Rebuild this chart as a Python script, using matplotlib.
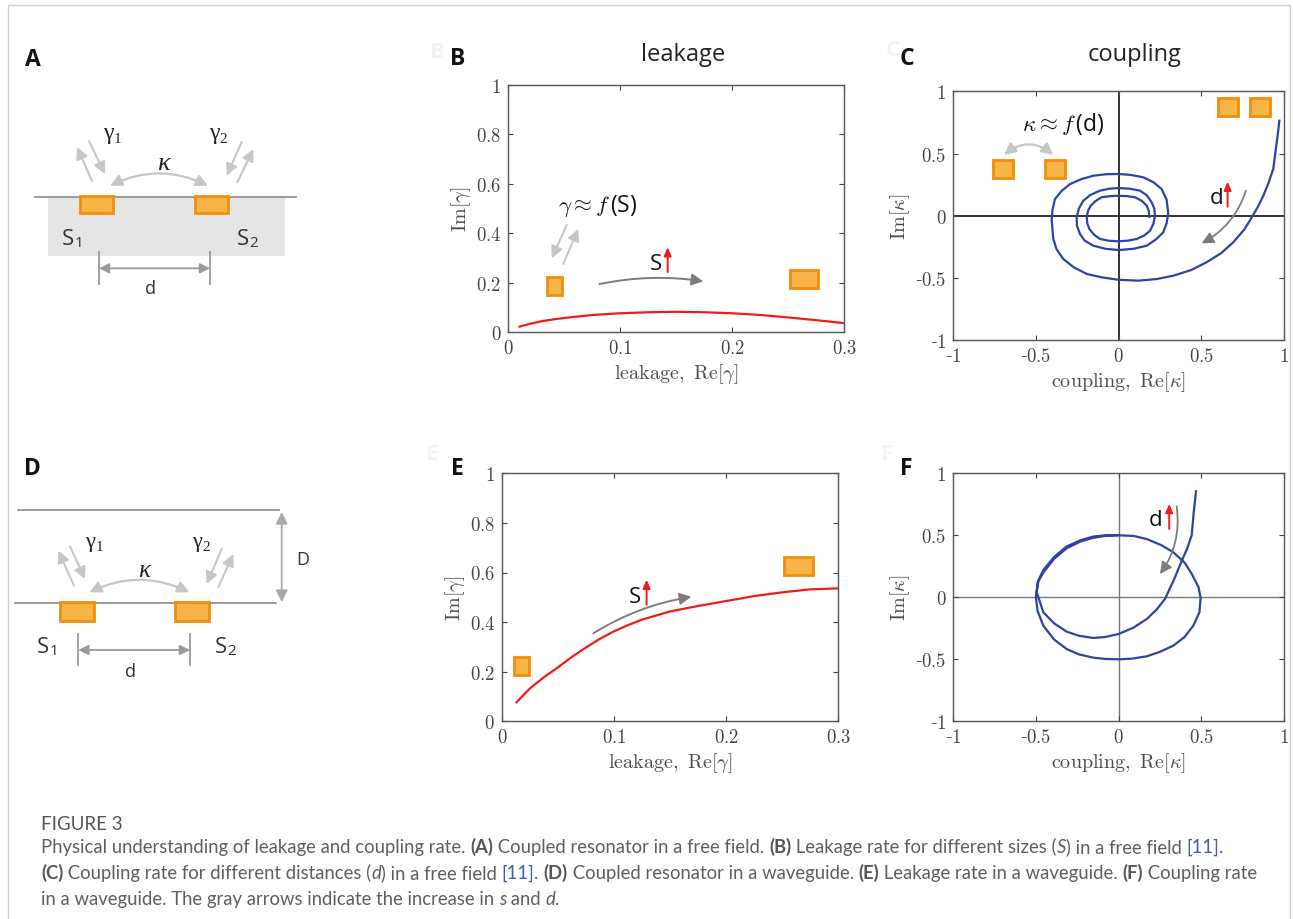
import matplotlib
matplotlib.use('Agg')
import matplotlib.pyplot as plt
from matplotlib.patches import Rectangle, FancyArrowPatch, ArrowStyle
from matplotlib.ticker import FuncFormatter

plt.rcParams['mathtext.fontset'] = 'cm'

# ---------------- data ----------------
# Panel B: leakage in free field
b_re = [0.01, 0.02, 0.03, 0.04, 0.05, 0.075, 0.1, 0.125, 0.15, 0.175, 0.2, 0.225, 0.25, 0.275, 0.3]
b_im = [0.023, 0.035, 0.045, 0.052, 0.058, 0.070, 0.077, 0.081, 0.083, 0.081, 0.077, 0.070, 0.060, 0.049, 0.037]

# Panel E: leakage in waveguide
e_re = [0.013, 0.019, 0.025, 0.0375, 0.05, 0.0625, 0.075, 0.0875, 0.1, 0.1125, 0.125, 0.15, 0.175,
        0.2, 0.225, 0.25, 0.275, 0.3]
e_im = [0.077, 0.105, 0.133, 0.178, 0.218, 0.260, 0.298, 0.333, 0.363, 0.388, 0.410, 0.443, 0.465,
        0.485, 0.505, 0.520, 0.532, 0.536]

# Panel C: coupling in free field (spiral)
c_re = [0.972, 0.962, 0.95, 0.935, 0.905, 0.875, 0.845, 0.811, 0.76, 0.693, 0.62, 0.532, 0.44, 0.331,
        0.23, 0.119, 0.0, -0.10, -0.193, -0.27, -0.335, -0.375, -0.395, -0.405, -0.40, -0.385,
        -0.345, -0.294, -0.225, -0.153, -0.075, 0.0, 0.075, 0.149, 0.21, 0.260, 0.29, 0.30, 0.29,
        0.270, 0.225, 0.17, 0.09, 0.0, -0.08, -0.153, -0.205, -0.234, -0.252, -0.254, -0.24,
        -0.214, -0.17, -0.113, -0.055, 0.0, 0.065, 0.129, 0.17, 0.2, 0.215, 0.22, 0.21, 0.19,
        0.155, 0.109, 0.055, 0.0, -0.06, -0.113, -0.15, -0.177, -0.19, -0.193, -0.185, -0.169,
        -0.14, -0.103, -0.05, 0.0, 0.05, 0.099, 0.14, 0.17, 0.182, 0.186]
c_im = [0.764, 0.65, 0.53, 0.376, 0.26, 0.161, 0.08, 0.0, -0.11, -0.213, -0.30, -0.373, -0.435, -0.481,
        -0.508, -0.521, -0.514, -0.495, -0.467, -0.415, -0.347, -0.27, -0.187, -0.035, 0.05, 0.135,
        0.20, 0.255, 0.295, 0.322, 0.334, 0.336, 0.328, 0.309, 0.27, 0.215, 0.13, 0.02, -0.06,
        -0.133, -0.19, -0.24, -0.265, -0.275, -0.265, -0.24, -0.20, -0.146, -0.08, -0.01, 0.06,
        0.121, 0.168, 0.202, 0.218, 0.223, 0.218, 0.202, 0.165, 0.108, 0.06, 0.0, -0.065, -0.12,
        -0.158, -0.186, -0.200, -0.205, -0.200, -0.186, -0.15, -0.106, -0.06, -0.008, 0.04, 0.081,
        0.118, 0.149, 0.158, 0.161, 0.158, 0.149, 0.12, 0.081, 0.04, -0.008]

# Panel F: coupling in waveguide
f_re = [0.469, 0.455, 0.443, 0.415, 0.383, 0.335, 0.281, 0.23, 0.171, 0.09, 0.0, -0.08, -0.152,
        -0.24, -0.314, -0.39, -0.455, -0.495, -0.485, -0.455, -0.39, -0.314, -0.23, -0.152, -0.08,
        0.0, 0.09, 0.171, 0.26, 0.332, 0.40, 0.443, 0.485, 0.497, 0.49, 0.453, 0.40, 0.332, 0.25,
        0.171, 0.08, 0.0, -0.08, -0.152, -0.24, -0.314, -0.39, -0.455, -0.49, -0.5, -0.49, -0.455,
        -0.39, -0.314, -0.23, -0.152, -0.08, 0.0]
f_im = [0.855, 0.68, 0.50, 0.39, 0.295, 0.14, -0.014, -0.10, -0.175, -0.245, -0.296, -0.32, -0.328,
        -0.31, -0.277, -0.21, -0.121, 0.04, 0.13, 0.20, 0.31, 0.395, 0.45, 0.48, 0.495, 0.5, 0.495,
        0.47, 0.42, 0.363, 0.28, 0.19, 0.08, -0.006, -0.12, -0.229, -0.32, -0.39, -0.44, -0.476,
        -0.495, -0.5, -0.497, -0.487, -0.46, -0.417, -0.34, -0.229, -0.11, 0.0, 0.12, 0.22, 0.325,
        0.41, 0.46, 0.49, 0.5, 0.502]

lk_xticks = [0, 0.1, 0.2, 0.3]
lk_yticks = [0, 0.2, 0.4, 0.6, 0.8, 1]
cp_ticks = [-1, -0.5, 0, 0.5, 1]

W, H = 1293, 920
fig = plt.figure(figsize=(W / 100, H / 100), dpi=100)
fig.patch.set_facecolor('white')

ov = fig.add_axes([0, 0, 1, 1], zorder=0)
ov.set_xlim(0, W)
ov.set_ylim(H, 0)
ov.axis('off')

ORF = '#f7b548'
ORE = '#f28e0c'
LG = '#c6c6c6'
DG = '#7d7d7d'
RED = '#f01c1c'
BLUE = '#2f43a0'
SANS = 'Open Sans'
SERIF = 'Liberation Serif'


def arrow(ax, p0, p1, color, lw=1.4, rad=0.0, both=False, hl=6, hw=3, z=5):
    st = ArrowStyle('<|-|>' if both else '-|>', head_length=hl, head_width=hw)
    a = FancyArrowPatch(p0, p1, arrowstyle=st, connectionstyle=f'arc3,rad={rad}',
                        color=color, lw=lw, shrinkA=0, shrinkB=0, mutation_scale=1,
                        transform=ax.transData, zorder=z)
    ax.add_patch(a)


# -------- figure frame --------
ov.plot([7.5, 7.5, 1290, 1290], [925, 6, 6, 925], color='#d0d0d0', lw=1.0)

# -------- panel letters & titles --------
for (x, y, s) in [(437, 52, 'B'), (893, 50, 'C'), (432, 455, 'E'), (887, 455, 'F')]:
    ov.text(x, y, s, fontsize=16, weight='bold', family=SANS, color='#f3f3f3', ha='center', va='center')
for (x, y, s) in [(32.5, 60, 'A'), (458, 59, 'B'), (906.5, 59, 'C'),
                  (32.5, 469, 'D'), (457.5, 469, 'E'), (906, 469, 'F')]:
    ov.text(x, y, s, fontsize=16.5, weight='bold', family=SANS, color='#111111', ha='center', va='center')
ov.text(683, 61, 'leakage', fontsize=17, family=SANS, color='#222222', ha='center', va='baseline')
ov.text(1134.5, 61, 'coupling', fontsize=17, family=SANS, color='#222222', ha='center', va='baseline')


def sub_label(x, yb, main, sub, fam, size, subsize, dy, color='#333333', style='normal'):
    t = ov.text(x, yb, main, fontsize=size, family=fam, color=color, va='baseline', style=style)
    r = fig.canvas.get_renderer()
    w = t.get_window_extent(r).width
    ov.text(x + w + 0.5, yb + dy, sub, fontsize=subsize, family=fam, color=color, va='baseline')


# -------- panel A diagram --------
ov.add_patch(Rectangle((48.3, 198), 236.7, 58.7, fc='#e5e5e5', ec='none', zorder=1))
ov.plot([35, 296], [198.3, 198.3], color='#8a8a8a', lw=1.2, zorder=2)
for x0 in [80, 195]:
    ov.add_patch(Rectangle((x0, 196.7), 33.3, 17.6, fc=ORF, ec=ORE, lw=2, zorder=3))
sub_label(62, 245, 'S', '1', SANS, 16, 11, 2)
sub_label(237, 245, 'S', '2', SANS, 16, 11, 2)
for x0 in [99, 210]:
    ov.plot([x0, x0], [253, 285], color='#9a9a9a', lw=1.3)
arrow(ov, (99, 269.3), (210, 269.3), '#9a9a9a', lw=1.3, both=True, hl=6, hw=3)
ov.text(150, 294, 'd', fontsize=13, family=SANS, color='#333333', ha='center', va='baseline')
ov.text(163, 170, 'κ', fontsize=19, family=SERIF, style='italic', color='#222222', ha='center', va='baseline')
arrow(ov, (110, 186.7), (208, 186.7), LG, lw=1.6, rad=-0.24, both=True, hl=7, hw=3.5)
sub_label(103, 139, 'γ', '1', SERIF, 17, 11, 4, color='#222222')
sub_label(209, 139, 'γ', '2', SERIF, 17, 11, 4, color='#222222')
arrow(ov, (92, 182), (77, 148), LG, lw=1.5, hl=7, hw=3.5)
arrow(ov, (89, 142), (105, 175), LG, lw=1.5, hl=7, hw=3.5)
arrow(ov, (241.7, 143), (226.7, 176.7), LG, lw=1.5, hl=7, hw=3.5)
arrow(ov, (237.3, 183.3), (253.3, 150), LG, lw=1.5, hl=7, hw=3.5)

# -------- panel D diagram --------
ov.plot([18.3, 279.3], [511, 511], color='#8a8a8a', lw=1.2)
ov.plot([15, 276], [604, 604], color='#8a8a8a', lw=1.2)
arrow(ov, (281.7, 513), (281.7, 603), '#a8a8a8', lw=1.3, both=True, hl=7, hw=3.5)
ov.text(303, 565, 'D', fontsize=13, family=SANS, color='#333333', ha='center', va='baseline')
for x0 in [60, 175]:
    ov.add_patch(Rectangle((x0, 603.3), 34, 18.4, fc=ORF, ec=ORE, lw=2, zorder=3))
sub_label(36.7, 653, 'S', '1', SANS, 16, 11, 2)
sub_label(215, 653, 'S', '2', SANS, 16, 11, 2)
for x0 in [78.3, 190]:
    ov.plot([x0, x0], [635, 666], color='#9a9a9a', lw=1.3)
arrow(ov, (78.3, 651), (190, 651), '#9a9a9a', lw=1.3, both=True, hl=6, hw=3)
ov.text(130, 676.7, 'd', fontsize=13, family=SANS, color='#333333', ha='center', va='baseline')
ov.text(144, 577, 'κ', fontsize=18, family=SERIF, style='italic', color='#222222', ha='center', va='baseline')
arrow(ov, (89.3, 593.3), (189.3, 593.3), LG, lw=1.6, rad=-0.24, both=True, hl=7, hw=3.5)
sub_label(85, 547, 'γ', '1', SERIF, 16, 11, 4, color='#222222')
sub_label(191.7, 547, 'γ', '2', SERIF, 16, 11, 4, color='#222222')
arrow(ov, (74, 586.7), (58.3, 551.7), LG, lw=1.5, hl=7, hw=3.5)
arrow(ov, (70, 547.3), (85, 580), LG, lw=1.5, hl=7, hw=3.5)
arrow(ov, (221.7, 550), (206.7, 585), LG, lw=1.5, hl=7, hw=3.5)
arrow(ov, (218.3, 588.3), (233.3, 555), LG, lw=1.5, hl=7, hw=3.5)


# -------- plot axes --------
def px_axes(l, t, r, b):
    return fig.add_axes([l / W, 1 - b / H, (r - l) / W, (b - t) / H], zorder=2)


def fmt(v, pos):
    s = f'{v:g}'
    if s.startswith('-'):
        return '-$' + s[1:] + '$'
    return '$' + s + '$'


def style(ax, xt, yt, xl, yl, xlabel, ylabel):
    ax.set_xlim(xl)
    ax.set_ylim(yl)
    ax.set_xticks(xt)
    ax.set_yticks(yt)
    ax.xaxis.set_major_formatter(FuncFormatter(fmt))
    ax.yaxis.set_major_formatter(FuncFormatter(fmt))
    ax.tick_params(direction='in', top=True, right=True, length=3.5, width=0.8, color='#444444',
                   labelcolor='#444444', labelsize=13.5, pad=5, labelfontfamily='DejaVu Serif')
    for sp in ax.spines.values():
        sp.set_color('#555555')
        sp.set_linewidth(1.0)
    ax.set_xlabel(xlabel, fontsize=14.5, color='#4d4d4d', labelpad=3)
    ax.set_ylabel(ylabel, fontsize=14.5, color='#4d4d4d', labelpad=2)


def orange(ax, x0, x1, y0, y1):
    ax.add_patch(Rectangle((x0, y0), x1 - x0, y1 - y0, fc=ORF, ec=ORE, lw=2, zorder=6))


axB = px_axes(508.3, 86, 844.3, 333.3)
axC = px_axes(953.3, 92.3, 1284, 341.3)
axE = px_axes(502, 474.3, 838.3, 722.3)
axF = px_axes(953.3, 474.3, 1283.7, 722.3)

lk_xl = r'$\mathrm{leakage,\ Re}[\gamma]$'
lk_yl = r'$\mathrm{Im}[\gamma]$'
cp_xl = r'$\mathrm{coupling,\ Re}[\kappa]$'
cp_yl = r'$\mathrm{Im}[\kappa]$'

# B
style(axB, lk_xticks, lk_yticks, (0, 0.3), (0, 1), lk_xl, lk_yl)
axB.plot(b_re, b_im, color=RED, lw=1.6, solid_joinstyle='round')
orange(axB, 0.0343, 0.0482, 0.152, 0.222)
orange(axB, 0.2515, 0.2762, 0.180, 0.251)
axB.text(0.0446, 0.492, r'$\gamma\approx f\,$(S)', fontsize=16.5, family=SANS, color='#111111', va='baseline')
arrow(axB, (0.0522, 0.434), (0.0388, 0.299), LG, lw=1.5, hl=7, hw=3.5)
arrow(axB, (0.0491, 0.277), (0.0625, 0.418), LG, lw=1.5, hl=7, hw=3.5)
axB.text(0.1265, 0.256, 'S', fontsize=16, family=SANS, color='#111111', va='baseline')
arrow(axB, (0.1423, 0.243), (0.1423, 0.344), RED, lw=1.4, hl=5, hw=2.2)
arrow(axB, (0.0813, 0.195), (0.1741, 0.206), DG, lw=1.4, rad=-0.09, hl=7, hw=3.5)

# C
style(axC, cp_ticks, cp_ticks, (-1, 1), (-1, 1), cp_xl, cp_yl)
axC.axhline(0, color='#111111', lw=1.2, zorder=1)
axC.axvline(0, color='#111111', lw=1.2, zorder=1)
axC.plot(c_re, c_im, color=BLUE, lw=1.6, zorder=3, solid_joinstyle='round')
orange(axC, 0.603, 0.724, 0.799, 0.944)
orange(axC, 0.794, 0.915, 0.799, 0.944)
orange(axC, -0.762, -0.641, 0.301, 0.448)
orange(axC, -0.445, -0.324, 0.301, 0.448)
arrow(axC, (-0.693, 0.489), (-0.395, 0.489), LG, lw=1.6, rad=-0.4, both=True, hl=7, hw=3.5)
axC.text(-0.586, 0.689, r'$\kappa\approx f\,$(d)', fontsize=16.5, family=SANS, color='#111111', va='baseline')
axC.text(0.548, 0.103, 'd', fontsize=16, family=SANS, color='#111111', va='baseline')
arrow(axC, (0.659, 0.073), (0.659, 0.274), RED, lw=1.4, hl=5, hw=2.2)
arrow(axC, (0.770, 0.202), (0.502, -0.221), DG, lw=1.3, rad=-0.2, hl=7, hw=3.5)

# E
style(axE, lk_xticks, lk_yticks, (0, 0.3), (0, 1), lk_xl, lk_yl)
axE.plot(e_re, e_im, color=RED, lw=1.6, solid_joinstyle='round')
orange(axE, 0.0107, 0.0241, 0.188, 0.259)
orange(axE, 0.2518, 0.2772, 0.591, 0.661)
axE.text(0.1127, 0.48, 'S', fontsize=16, family=SANS, color='#111111', va='baseline')
arrow(axE, (0.129, 0.47), (0.129, 0.571), RED, lw=1.4, hl=5, hw=2.2)
arrow(axE, (0.0815, 0.355), (0.169, 0.502), DG, lw=1.4, rad=-0.1, hl=7, hw=3.5)

# F
style(axF, cp_ticks, cp_ticks, (-1, 1), (-1, 1), cp_xl, cp_yl)
axF.axhline(0, color='#7a7a7a', lw=1.0, zorder=1)
axF.axvline(0, color='#7a7a7a', lw=1.0, zorder=1)
axF.plot(f_re, f_im, color=BLUE, lw=1.6, zorder=3, solid_joinstyle='round')
axF.text(0.186, 0.583, 'd', fontsize=16, family=SANS, color='#111111', va='baseline')
arrow(axF, (0.307, 0.551), (0.307, 0.753), RED, lw=1.4, hl=5, hw=2.2)
arrow(axF, (0.352, 0.734), (0.251, 0.188), DG, lw=1.3, rad=-0.2, hl=7, hw=3.5)

# -------- caption --------
CAPF = 'Lato'
CG = '#5e5e5e'
n = dict(family=CAPF, color=CG)
b = dict(family=CAPF, color='#555555', weight='bold')
it = dict(family=CAPF, color=CG, style='italic')
bl = dict(family=CAPF, color='#4c58a8')

cap1 = [("Physical understanding of leakage and coupling rate. ", n), ("(A)", b),
        (" Coupled resonator in a free field. ", n), ("(B)", b),
        (" Leakage rate for different sizes (", n), ("S", it), (") in a free field ", n),
        ("[11]", bl), (".", n)]
cap2 = [("(C)", b), (" Coupling rate for different distances (", n), ("d", it),
        (") in a free field ", n), ("[11]", bl), (". ", n), ("(D)", b),
        (" Coupled resonator in a waveguide. ", n), ("(E)", b),
        (" Leakage rate in a waveguide. ", n), ("(F)", b), (" Coupling rate", n)]
cap3 = [("in a waveguide. The gray arrows indicate the increase in ", n), ("s", it),
        (" and ", n), ("d", it), (".", n)]

rend = fig.canvas.get_renderer()


def measure(s, size, props):
    t1 = fig.text(0, 0, s + '|', fontsize=size, **props)
    w1 = t1.get_window_extent(rend).width
    t1.remove()
    t2 = fig.text(0, 0, '|', fontsize=size, **props)
    w2 = t2.get_window_extent(rend).width
    t2.remove()
    return w1 - w2


def line_width(runs, size):
    return sum(measure(s, size, p) for s, p in runs)


cap_size = 10 * (1222 / line_width(cap2, 10))


def draw_line(x0, yb, runs, size):
    x = x0
    for s, p in runs:
        fig.text(x / W, 1 - yb / H, s, fontsize=size, va='baseline', **p)
        x += measure(s, size, p)


fig.text(41 / W, 1 - 830 / H, 'FIGURE 3', fontsize=13.5, family=CAPF, color='#555555', va='baseline')
draw_line(41, 853, cap1, cap_size)
draw_line(41, 879, cap2, cap_size)
draw_line(41, 905, cap3, cap_size)

fig.savefig('out.png', dpi=100)
